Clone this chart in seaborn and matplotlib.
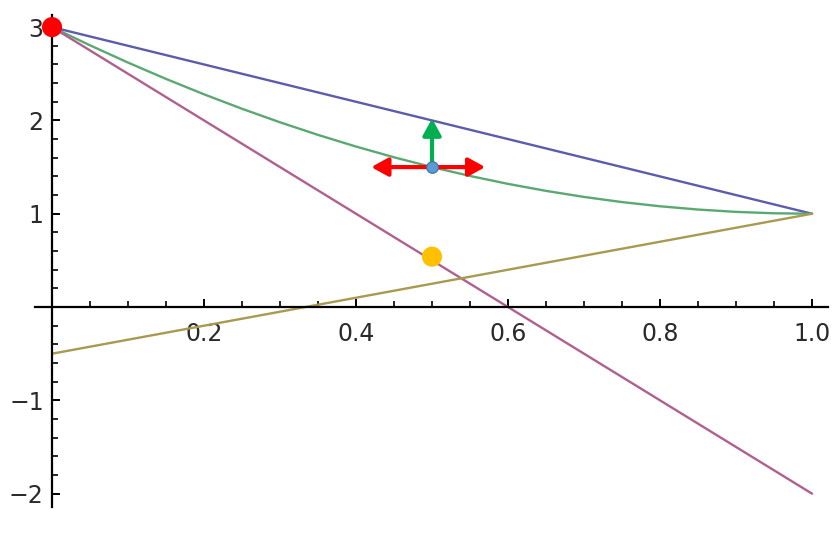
import numpy as np
import pandas as pd
import matplotlib
matplotlib.use("Agg")
import matplotlib.pyplot as plt
import seaborn as sns
from matplotlib.patches import FancyArrowPatch

# ---------------- data ----------------
line_x = [0.0, 1.0]
blue_y = [3.0, 1.0]
purple_y = [3.0, -2.0]
olive_y = [-0.5, 1.0]

curve_x = [0.0, 0.05, 0.1, 0.15, 0.2, 0.25, 0.3, 0.35, 0.4, 0.45, 0.5,
           0.55, 0.6, 0.65, 0.7, 0.75, 0.8, 0.85, 0.9, 0.95, 1.0]
curve_y = [3.0, 2.805, 2.62, 2.445, 2.28, 2.125, 1.98, 1.845, 1.72, 1.605, 1.5,
           1.405, 1.32, 1.245, 1.18, 1.125, 1.08, 1.045, 1.02, 1.005, 1.0]

red_pt = (0.0, 3.0)
orange_pt = (0.5, 0.54)
blue_pt = (0.5, 1.5)
green_arrow_tip = (0.5, 2.02)
red_arrow_left = (0.42, 1.5)
red_arrow_right = (0.57, 1.5)

x_major = [0.2, 0.4, 0.6, 0.8, 1.0]
x_labels = ["0.2", "0.4", "0.6", "0.8", "1.0"]
y_major = [-2, -1, 1, 2, 3]
y_labels = ["\u22122", "\u22121", "1", "2", "3"]

# ---------------- figure ----------------
sns.set_style("white")
plt.rcParams["font.family"] = ["DejaVu Sans"]

W, H = 838, 538
fig = plt.figure(figsize=(W / 100, H / 100), dpi=100)
ax = fig.add_axes([35 / W, 31 / H, 793 / W, 492 / H])
ax.set_xlim(-0.0224, 1.021)
ax.set_ylim(-2.143, 3.13)

df = pd.concat([
    pd.DataFrame({"x": line_x, "y": blue_y, "s": "blue"}),
    pd.DataFrame({"x": curve_x, "y": curve_y, "s": "green"}),
    pd.DataFrame({"x": line_x, "y": purple_y, "s": "purple"}),
    pd.DataFrame({"x": line_x, "y": olive_y, "s": "olive"}),
])
palette = {"blue": "#5c5cad", "green": "#5aa872", "purple": "#b0608f", "olive": "#a89a50"}
sns.lineplot(data=df, x="x", y="y", hue="s", palette=palette, linewidth=1.7,
             legend=False, ax=ax, sort=False, estimator=None)

# arrows
ga = FancyArrowPatch(blue_pt, green_arrow_tip, arrowstyle="-|>,head_length=10,head_width=5.5",
                     mutation_scale=1, color="#00b050", linewidth=3, shrinkA=0, shrinkB=0, zorder=5)
ax.add_patch(ga)
ra = FancyArrowPatch(red_arrow_left, red_arrow_right, arrowstyle="<|-|>,head_length=10,head_width=5.5",
                     mutation_scale=1, color="#ff0000", linewidth=3, shrinkA=0, shrinkB=0, zorder=6)
ax.add_patch(ra)

pts = pd.DataFrame({"x": [red_pt[0], orange_pt[0]], "y": [red_pt[1], orange_pt[1]],
                    "c": ["red", "orange"]})
sns.scatterplot(data=pts, x="x", y="y", hue="c",
                palette={"red": "#ff0000", "orange": "#ffc000"},
                s=210, edgecolor="none", legend=False, ax=ax, zorder=7, clip_on=False)
bp = pd.DataFrame({"x": [blue_pt[0]], "y": [blue_pt[1]]})
sns.scatterplot(data=bp, x="x", y="y", color="#5b9bd5", s=70, edgecolor="#41719c",
                linewidth=0.8, legend=False, ax=ax, zorder=8)

# axes styling (Mathematica-like, crossing at origin)
for side in ["top", "right"]:
    ax.spines[side].set_visible(False)
ax.spines["left"].set_position(("data", 0))
ax.spines["bottom"].set_position(("data", 0))
for side in ["left", "bottom"]:
    ax.spines[side].set_linewidth(1.6)
    ax.spines[side].set_color("black")

ax.set_xticks(x_major)
ax.set_xticklabels(x_labels)
ax.set_yticks(y_major)
ax.set_yticklabels(y_labels)
ax.set_xticks([v for v in np.round(np.arange(0.05, 1.0001, 0.05), 2) if v not in x_major], minor=True)
ax.set_yticks([v for v in np.round(np.arange(-2.0, 3.0001, 0.2), 2) if abs(v - round(v)) > 1e-6], minor=True)

ax.tick_params(which="both", bottom=True, left=True, top=False, right=False)
ax.tick_params(which="major", direction="in", length=6, width=1.4, color="black",
               labelsize=17, labelcolor="#2a2a2a")
ax.tick_params(which="minor", direction="in", length=4, width=1.2, color="black")
ax.tick_params(axis="x", which="major", pad=11)
ax.tick_params(axis="y", which="major", pad=6)
ax.set_xlabel("")
ax.set_ylabel("")
ax.grid(False)

fig.savefig("out.png", dpi=100)
